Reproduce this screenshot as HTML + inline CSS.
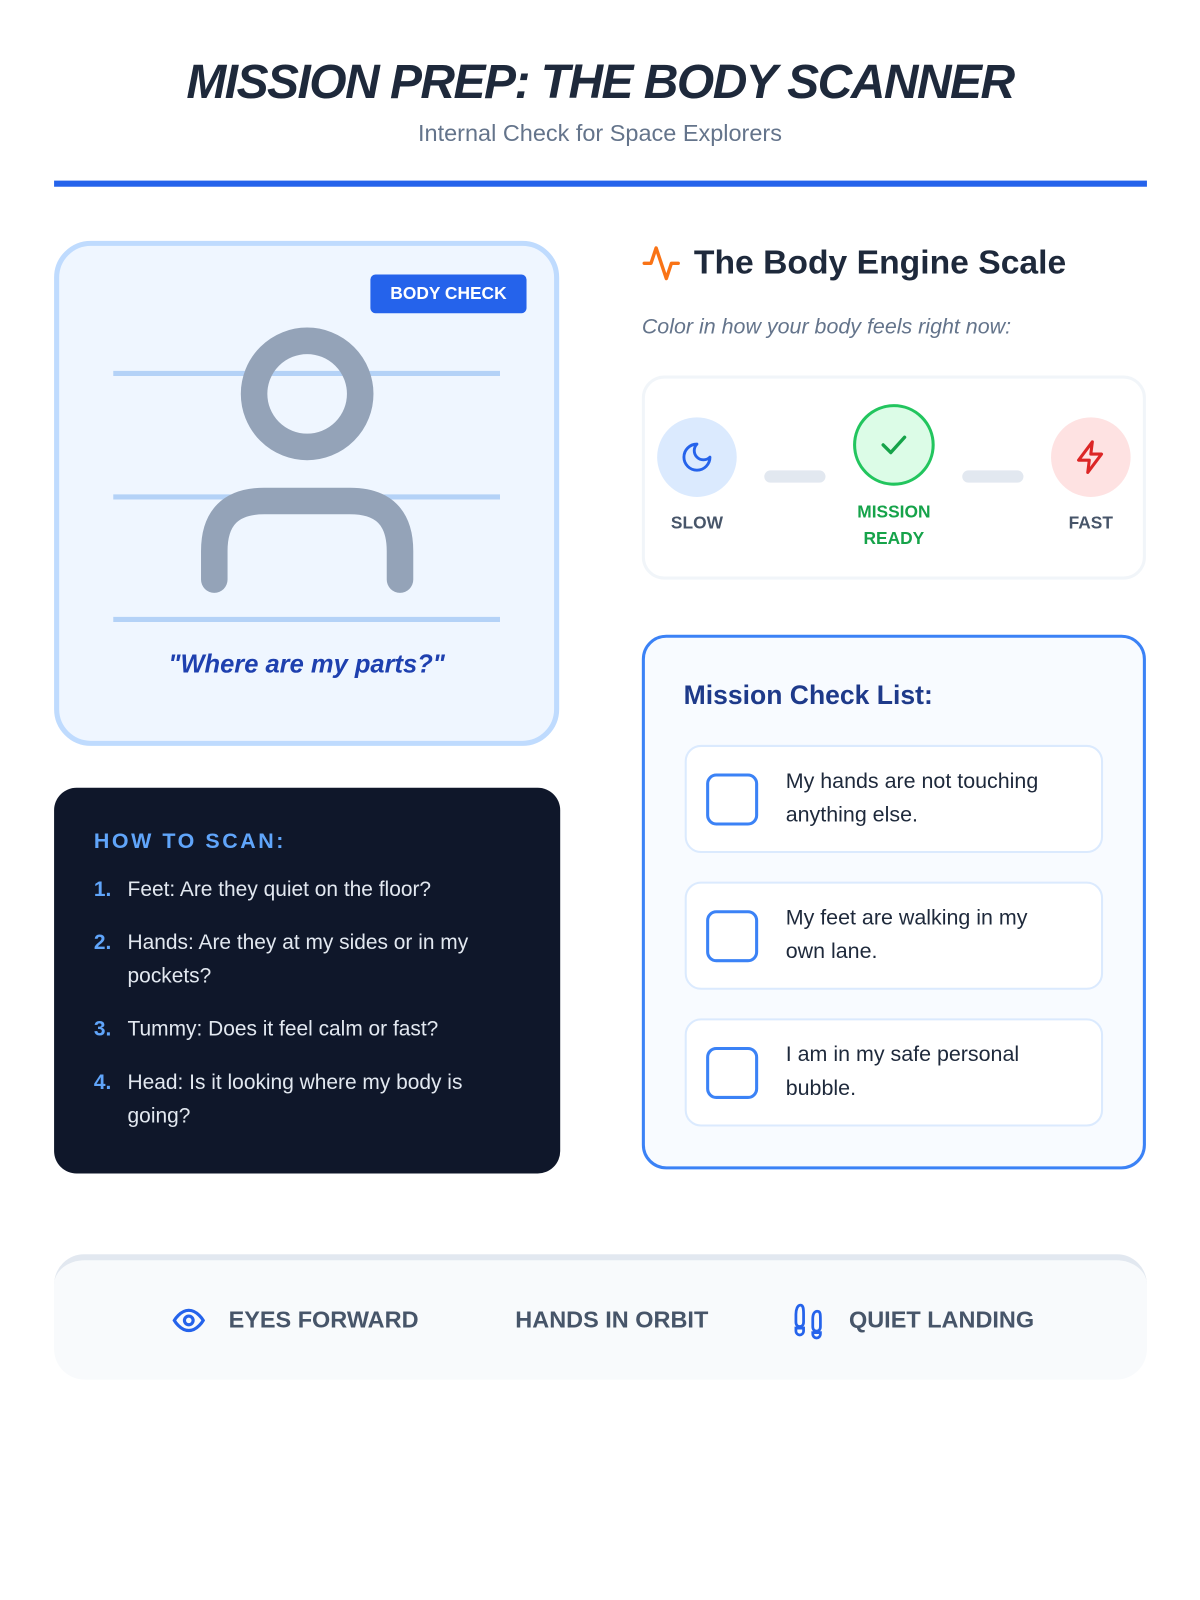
<!DOCTYPE html>
<html><head><meta charset="utf-8"><style>
html,body{margin:0;padding:0;background:#fff;width:1200px;height:1600px;overflow:hidden}
#w{position:absolute;left:0;top:0;width:1176px;height:1568px;transform:scale(1.020408);transform-origin:0 0;font-family:"Liberation Sans",sans-serif;background:#fff}
.a{position:absolute}
.t{white-space:nowrap}
</style></head><body><div id="w">
<div class="a t" style="left:0;width:1176px;top:52px;text-align:center;font-size:47px;font-weight:bold;font-style:italic;color:#1e293b;letter-spacing:-1.5px">MISSION PREP: THE BODY SCANNER</div>
<div class="a t" style="left:0;width:1176px;top:117px;text-align:center;font-size:23px;color:#64748b">Internal Check for Space Explorers</div>
<div class="a" style="left:53px;top:177px;width:1071px;height:6px;background:#2563eb"></div>

<div class="a" style="left:53px;top:236px;width:485px;height:485px;border:5px solid #bfdbfe;border-radius:36px;background:#eff6ff"></div>
<div class="a t" style="left:363px;top:269px;width:153px;height:38px;background:#2563eb;border-radius:5px;color:#fff;font-weight:bold;font-size:17px;line-height:38px;text-align:center">BODY CHECK</div>
<svg class="a" style="left:0;top:0" width="600" height="760">
<line x1="111" y1="366" x2="490" y2="366" stroke="#b4d2f7" stroke-width="5"/>
<line x1="111" y1="487" x2="490" y2="487" stroke="#b4d2f7" stroke-width="5"/>
<line x1="111" y1="607" x2="490" y2="607" stroke="#b4d2f7" stroke-width="5"/>
<circle cx="301" cy="386" r="52" fill="none" stroke="#94a3b8" stroke-width="26"/>
<path d="M210 568 V540 Q210 491 259 491 H343 Q392 491 392 540 V568" fill="none" stroke="#94a3b8" stroke-width="26" stroke-linecap="round"/>
</svg>
<div class="a t" style="left:53px;width:495px;top:637px;text-align:center;font-size:25px;font-weight:bold;font-style:italic;color:#1e40af">"Where are my parts?"</div>

<div class="a" style="left:53px;top:772px;width:496px;height:378px;background:#0f172a;border-radius:22px"></div>
<div class="a t" style="left:92px;top:813px;font-size:21px;font-weight:bold;color:#60a5fa;letter-spacing:2.5px">HOW TO SCAN:</div>
<div class="a" style="left:92px;top:855px;width:420px;font-size:20.5px;color:#e2e8f0;line-height:33px">
<div style="position:relative;padding-left:33px;margin-bottom:19px"><b style="position:absolute;left:0;color:#60a5fa">1.</b>Feet: Are they quiet on the floor?</div>
<div style="position:relative;padding-left:33px;margin-bottom:19px"><b style="position:absolute;left:0;color:#60a5fa">2.</b>Hands: Are they at my sides or in my pockets?</div>
<div style="position:relative;padding-left:33px;margin-bottom:19px"><b style="position:absolute;left:0;color:#60a5fa">3.</b>Tummy: Does it feel calm or fast?</div>
<div style="position:relative;padding-left:33px"><b style="position:absolute;left:0;color:#60a5fa">4.</b>Head: Is it looking where my body is going?</div>
</div>

<svg class="a" style="left:628px;top:238px" width="40" height="40" viewBox="0 0 24 24"><path d="M2 12h4l3-9 6 18 3-9h4" fill="none" stroke="#f97316" stroke-width="2" stroke-linecap="round" stroke-linejoin="round"/></svg>
<div class="a t" style="left:680px;top:238px;font-size:33px;font-weight:bold;color:#1e293b">The Body Engine Scale</div>
<div class="a t" style="left:629px;top:309px;font-size:21px;font-style:italic;color:#64748b">Color in how your body feels right now:</div>

<div class="a" style="left:629px;top:368px;width:488px;height:194px;border:3px solid #f1f5f9;border-radius:22px;background:#fff"></div>
<div class="a" style="left:644px;top:409px;width:78px;height:78px;border-radius:50%;background:#dbeafe"></div>
<svg class="a" style="left:666px;top:431px" width="34" height="34" viewBox="0 0 24 24"><path d="M12 3a6 6 0 0 0 9 9 9 9 0 1 1-9-9z" fill="none" stroke="#2563eb" stroke-width="2" stroke-linejoin="round"/></svg>
<div class="a" style="left:749px;top:461px;width:60px;height:12px;border-radius:6px;background:#e2e8f0"></div>
<div class="a" style="left:943px;top:461px;width:60px;height:12px;border-radius:6px;background:#e2e8f0"></div>
<div class="a" style="left:836px;top:396px;width:74px;height:74px;border-radius:50%;background:#dcfce7;border:3px solid #22c55e"></div>
<svg class="a" style="left:858px;top:418px" width="36" height="36" viewBox="0 0 24 24"><path d="M5 12l5 5 9-10" fill="none" stroke="#16a34a" stroke-width="2.2" stroke-linecap="round" stroke-linejoin="round"/></svg>
<div class="a" style="left:1030px;top:409px;width:78px;height:78px;border-radius:50%;background:#fee2e2"></div>
<svg class="a" style="left:1051px;top:430px" width="36" height="36" viewBox="0 0 24 24"><path d="M13 2L4 14h7l-1 8 9-12h-7z" fill="none" stroke="#dc2626" stroke-width="2" stroke-linejoin="round"/></svg>
<div class="a t" style="left:633px;width:100px;top:503px;text-align:center;font-size:17px;font-weight:bold;color:#475569">SLOW</div>
<div class="a t" style="left:816px;width:120px;top:489px;text-align:center;font-size:17px;font-weight:bold;color:#16a34a;line-height:26px">MISSION<br>READY</div>
<div class="a t" style="left:1019px;width:100px;top:503px;text-align:center;font-size:17px;font-weight:bold;color:#475569">FAST</div>

<div class="a" style="left:629px;top:622px;width:488px;height:518px;border:3px solid #3b82f6;border-radius:24px;background:#f8fbff"></div>
<div class="a t" style="left:670px;top:666px;font-size:26px;font-weight:bold;color:#1e3a8a">Mission Check List:</div>
<div class="a" style="left:671px;top:730px;width:406px;height:102px;background:#fff;border:2px solid #dbeafe;border-radius:16px"></div>
<div class="a" style="left:671px;top:864px;width:406px;height:102px;background:#fff;border:2px solid #dbeafe;border-radius:16px"></div>
<div class="a" style="left:671px;top:998px;width:406px;height:102px;background:#fff;border:2px solid #dbeafe;border-radius:16px"></div>
<div class="a" style="left:692px;top:758px;width:45px;height:45px;border:3px solid #3b82f6;border-radius:10px"></div>
<div class="a" style="left:692px;top:892px;width:45px;height:45px;border:3px solid #3b82f6;border-radius:10px"></div>
<div class="a" style="left:692px;top:1026px;width:45px;height:45px;border:3px solid #3b82f6;border-radius:10px"></div>
<div class="a" style="left:770px;top:749px;width:275px;font-size:21px;line-height:33px;color:#1e293b">My hands are not touching anything else.</div>
<div class="a" style="left:770px;top:883px;width:275px;font-size:21px;line-height:33px;color:#1e293b">My feet are walking in my own lane.</div>
<div class="a" style="left:770px;top:1017px;width:275px;font-size:21px;line-height:33px;color:#1e293b">I am in my safe personal bubble.</div>

<div class="a" style="left:53px;top:1229px;width:1071px;height:123px;background:#f8fafc;border-top:6px solid #e2e8f0;border-radius:30px;box-sizing:border-box"></div>
<svg class="a" style="left:165px;top:1277px" width="40" height="34" viewBox="0 0 24 24"><path d="M2 12s4-7 10-7 10 7 10 7-4 7-10 7S2 12 2 12z" fill="none" stroke="#2563eb" stroke-width="2.2"/><circle cx="12" cy="12" r="3" fill="none" stroke="#2563eb" stroke-width="2.2"/></svg>
<div class="a t" style="left:224px;top:1280px;font-size:23px;font-weight:bold;color:#475569">EYES FORWARD</div>
<div class="a t" style="left:505px;top:1280px;font-size:23px;font-weight:bold;color:#475569">HANDS IN ORBIT</div>
<svg class="a" style="left:774px;top:1274px" width="36" height="40" viewBox="0 0 24 26"><path d="M4 14V9c0-3 1-6 3-6s2 3 2 6v5c0 2-1 3-2.5 3S4 16 4 14zM4 18h5v2a2.5 2.5 0 0 1-5 0z" fill="none" stroke="#2563eb" stroke-width="1.8"/><path d="M15 17v-5c0-3 1-5 3-5s2 2 2 5v5c0 2-1 3-2.5 3S15 19 15 17zM15 21h5v1a2.5 2.5 0 0 1-5 0z" fill="none" stroke="#2563eb" stroke-width="1.8"/></svg>
<div class="a t" style="left:832px;top:1280px;font-size:23px;font-weight:bold;color:#475569">QUIET LANDING</div>
</div></body></html>
